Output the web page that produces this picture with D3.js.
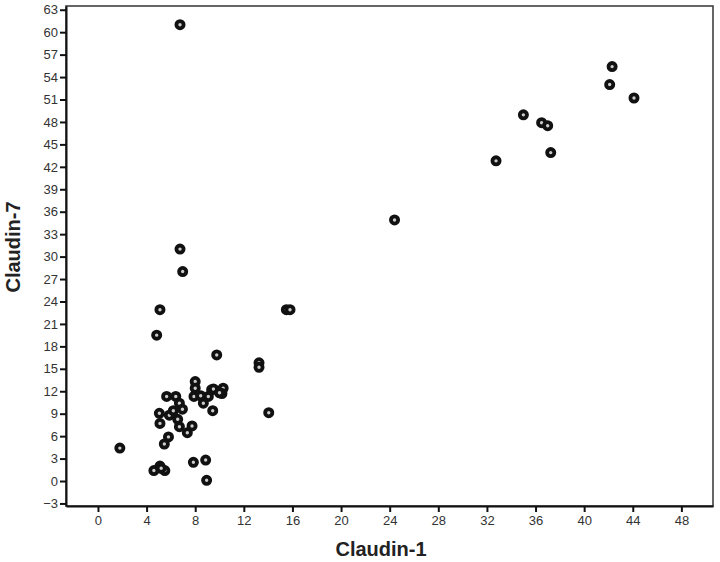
<!DOCTYPE html>
<html>
<head>
<meta charset="utf-8">
<script src="https://cdn.jsdelivr.net/npm/d3@7"></script>
<style>
  body { margin: 0; background: #fff; }
  text { font-family: "Liberation Sans", Arial, sans-serif; }
</style>
</head>
<body>
<div class="container"></div>
<script>
const width = 720;
const height = 562;

// Claudin-1 (x) and Claudin-7 (y), one entry per case
const claudin1 = [6.75, 42.3, 42.1, 44.1, 35.0, 36.5, 37.0, 37.25, 32.75, 24.4,
  6.75, 6.97, 5.1, 15.5, 15.8, 4.83, 9.77, 13.25, 13.25, 14.05,
  1.8, 4.6, 5.1, 5.5, 5.2, 7.85, 8.86, 8.94,
  5.46, 5.8, 5.05, 5.1, 5.65, 6.4, 5.87, 6.2, 6.7, 6.95, 6.56, 6.7, 7.35, 7.74,
  8.0, 8.0, 7.9, 8.45, 8.67, 9.08, 9.35, 9.5, 10.3, 10.2, 10.0, 9.44];
const claudin7 = [61.0, 55.4, 53.0, 51.2, 48.95, 47.9, 47.5, 43.9, 42.8, 34.9,
  31.0, 28.0, 22.9, 22.9, 22.9, 19.5, 16.85, 15.8, 15.2, 9.13,
  4.4, 1.4, 2.0, 1.4, 1.7, 2.5, 2.8, 0.1,
  4.95, 5.9, 9.05, 7.7, 11.3, 11.3, 8.8, 9.4, 10.4, 9.6, 8.25, 7.26, 6.46, 7.36,
  13.3, 12.4, 11.3, 11.4, 10.4, 11.3, 12.2, 12.3, 12.4, 11.7, 11.8, 9.4];

const xTicks = d3.range(0, 49, 4);
const yTicks = d3.range(-3, 64, 3);

const plotLeft = 66, plotRight = 713, plotTop = 6, plotBottom = 506;

const svg = d3.select('.container')
  .append('svg')
  .attr('width', width)
  .attr('height', height);

const scaleX = d3.scaleLinear()
  .domain([-2.63, 50.6])
  .range([plotLeft, plotRight]);

const scaleY = d3.scaleLinear()
  .domain([-3.34, 63.5])
  .range([plotBottom, plotTop]);

// frame
svg.append('rect')
  .attr('x', plotLeft)
  .attr('y', plotTop)
  .attr('width', plotRight - plotLeft)
  .attr('height', plotBottom - plotTop)
  .attr('fill', 'none')
  .attr('stroke', '#333')
  .attr('stroke-width', 1.5);

const x_axis = d3.axisBottom(scaleX)
  .tickValues(xTicks)
  .tickSize(6)
  .tickPadding(4)
  .tickSizeOuter(0);

svg.append('g')
  .attr('transform', `translate(0, ${plotBottom})`)
  .call(x_axis)
  .call(g => g.select('.domain').attr('stroke', '#111').attr('stroke-width', 2))
  .call(g => g.selectAll('.tick line').attr('stroke', '#111').attr('stroke-width', 2))
  .call(g => g.selectAll('.tick text').attr('font-size', 13).attr('fill', '#333'));

const y_axis = d3.axisLeft(scaleY)
  .tickValues(yTicks)
  .tickSize(6)
  .tickPadding(2)
  .tickSizeOuter(0);

svg.append('g')
  .attr('transform', `translate(${plotLeft}, 0)`)
  .call(y_axis)
  .call(g => g.select('.domain').attr('stroke', '#111').attr('stroke-width', 2))
  .call(g => g.selectAll('.tick line').attr('stroke', '#111').attr('stroke-width', 2))
  .call(g => g.selectAll('.tick text').attr('font-size', 13).attr('fill', '#333'));

svg.append('text')
  .attr('x', 381)
  .attr('y', 556)
  .attr('text-anchor', 'middle')
  .attr('font-size', 20)
  .attr('font-weight', 'bold')
  .attr('fill', '#222')
  .text('Claudin-1');

svg.append('text')
  .attr('transform', 'rotate(-90)')
  .attr('x', -247)
  .attr('y', 20)
  .attr('text-anchor', 'middle')
  .attr('font-size', 20)
  .attr('font-weight', 'bold')
  .attr('fill', '#222')
  .text('Claudin-7');

svg.append('g')
  .selectAll('circle')
  .data(claudin1)
  .enter()
  .append('circle')
  .attr('cx', d => scaleX(d))
  .attr('cy', (d, i) => scaleY(claudin7[i]))
  .attr('r', 3.6)
  .attr('fill', '#ccc')
  .attr('stroke', '#111')
  .attr('stroke-width', 3.8);
</script>
</body>
</html>
